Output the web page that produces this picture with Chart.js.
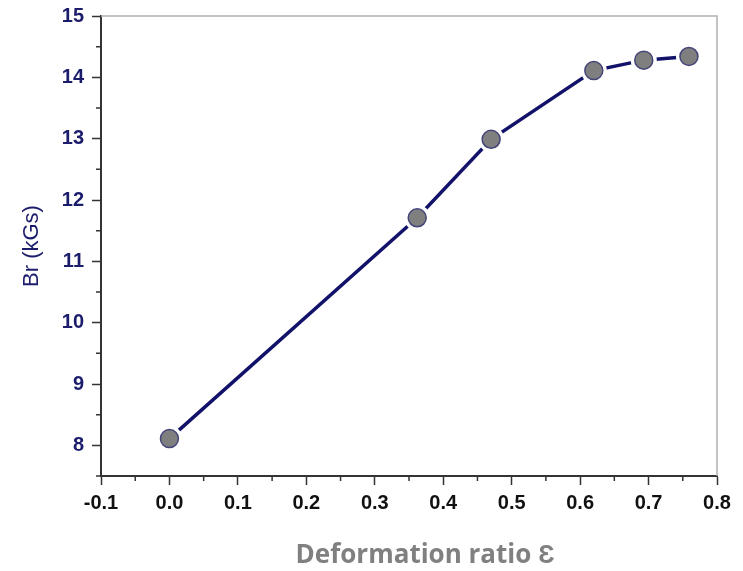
<!DOCTYPE html>
<html>
<head>
<meta charset="utf-8">
<script src="https://cdn.jsdelivr.net/npm/chart.js@4.4.1/dist/chart.umd.min.js"></script>
<style>
  html, body { margin: 0; padding: 0; background: #fff; }
  #wrap { width: 743px; height: 571px; }
</style>
</head>
<body>
<div id="wrap"><canvas id="brChart"></canvas></div>
<script>
// Data
const strain = [0, 0.362, 0.47, 0.62, 0.693, 0.759];
const br = [8.11, 11.71, 12.99, 14.11, 14.28, 14.34];
const xTicks = [-0.1, 0, 0.1, 0.2, 0.3, 0.4, 0.5, 0.6, 0.7, 0.8];
const yTicks = [8, 9, 10, 11, 12, 13, 14, 15];

const points = strain.map((x, i) => ({ x: x, y: br[i] }));

// Origin-style extras: minor ticks, light top/right frame, x title
const frame = {
    id: 'frame',
    afterDraw(chart) {
        const { ctx, chartArea: a, scales: { x, y } } = chart;
        ctx.save();
        ctx.strokeStyle = '#b0b0b0';
        ctx.lineWidth = 1.5;
        ctx.beginPath();
        ctx.moveTo(a.left, a.top);
        ctx.lineTo(a.right, a.top);
        ctx.lineTo(a.right, a.bottom);
        ctx.stroke();

        ctx.strokeStyle = '#333';
        ctx.lineWidth = 1.5;
        ctx.beginPath();
        for (let i = 0; i < xTicks.length - 1; i++) {
            const px = x.getPixelForValue((xTicks[i] + xTicks[i + 1]) / 2);
            ctx.moveTo(px, a.bottom);
            ctx.lineTo(px, a.bottom + 5);
        }
        for (let v = 7.5; v < 15; v += 1) {
            const py = y.getPixelForValue(v);
            ctx.moveTo(a.left, py);
            ctx.lineTo(a.left - 5, py);
        }
        ctx.stroke();

        ctx.fillStyle = '#808080';
        ctx.font = 'bold 26px "Open Sans", "Liberation Sans", sans-serif';
        ctx.textAlign = 'center';
        ctx.textBaseline = 'middle';
        ctx.fillText('Deformation ratio \u0190', 425, 556);
        ctx.restore();
    }
};

const ctx = document.getElementById('brChart').getContext('2d');
new Chart(ctx, {
    type: 'scatter',
    data: {
        datasets: [{
            data: points,
            showLine: true,
            borderColor: '#12126b',
            borderWidth: 3.5,
            pointRadius: 0,
            order: 3
        }, {
            data: points,
            showLine: false,
            pointRadius: 13,
            pointBackgroundColor: '#fff',
            pointBorderWidth: 0,
            order: 2
        }, {
            data: points,
            showLine: false,
            pointRadius: 9,
            pointBackgroundColor: '#7f7f7f',
            pointBorderColor: '#45457a',
            pointBorderWidth: 1.5,
            order: 1
        }]
    },
    options: {
        responsive: true,
        maintainAspectRatio: false,
        animation: false,
        layout: { padding: { top: 16, right: 26, left: 0, bottom: 0 } },
        plugins: {
            legend: { display: false },
            tooltip: { enabled: false }
        },
        scales: {
            x: {
                type: 'linear',
                min: -0.1,
                max: 0.8,
                afterFit: s => { s.height = 95; s.paddingLeft = 0; s.paddingRight = 0; },
                afterBuildTicks: s => { s.ticks = xTicks.map(v => ({ value: v })); },
                grid: {
                    drawOnChartArea: false,
                    tickLength: 9,
                    tickWidth: 1.5,
                    tickColor: '#333'
                },
                border: { color: '#333', width: 2 },
                ticks: {
                    color: '#111',
                    padding: 6,
                    maxRotation: 0,
                    font: { family: '"Liberation Sans", Arial, sans-serif', size: 20, weight: 'bold' },
                    callback: v => v.toFixed(1)
                }
            },
            y: {
                type: 'linear',
                min: 7.5,
                max: 15,
                afterFit: s => { s.width = 101; s.paddingTop = 0; s.paddingBottom = 0; },
                afterBuildTicks: s => { s.ticks = yTicks.map(v => ({ value: v })); },
                grid: {
                    drawOnChartArea: false,
                    tickLength: 9,
                    tickWidth: 1.5,
                    tickColor: '#333'
                },
                border: { color: '#333', width: 2 },
                ticks: {
                    color: '#1c1c6c',
                    padding: 8,
                    font: { family: '"Liberation Sans", Arial, sans-serif', size: 20, weight: 'bold' },
                    callback: v => String(v)
                },
                title: {
                    display: true,
                    text: 'Br (kGs)',
                    color: '#1c1c6c',
                    padding: { top: 19, bottom: 0 },
                    font: { family: '"Liberation Sans", Arial, sans-serif', size: 22 }
                }
            }
        }
    },
    plugins: [frame]
});
</script>
</body>
</html>
